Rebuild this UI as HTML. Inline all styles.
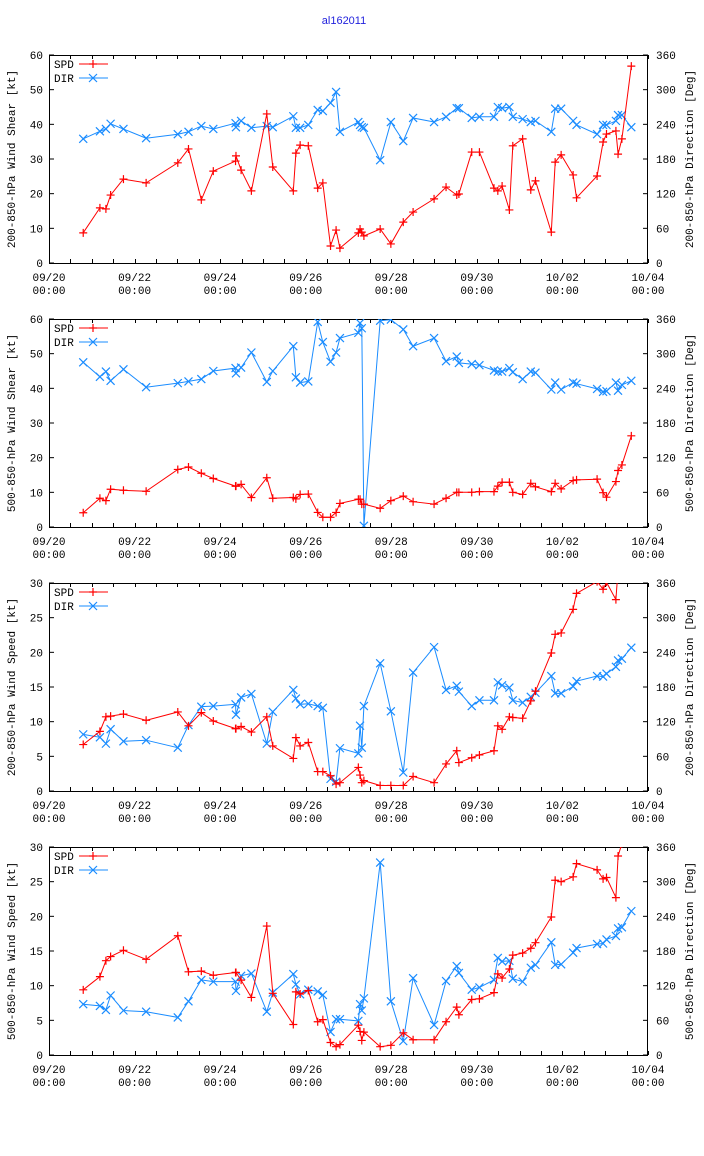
<!DOCTYPE html>
<html><head><meta charset="utf-8">
<style>
html,body{margin:0;padding:0;background:#fff;}
svg{display:block;}
text{font-family:"Liberation Mono","DejaVu Sans Mono",monospace;font-size:11px;fill:#000;}
</style></head>
<body>
<svg id="chart" width="704" height="1156" viewBox="0 0 704 1156" xmlns="http://www.w3.org/2000/svg">
<rect width="704" height="1156" fill="#fff"/>
<text x="344" y="24" text-anchor="middle" style="font-family:'Liberation Sans',sans-serif;font-size:11px;fill:#2222dd;">al162011</text>
</svg>
<script>
// time in days since 09/20 00:00
const times = [0.80,1.19,1.33,1.44,1.74,2.27,3.01,3.26,3.56,3.84,4.36,4.37,4.49,4.73,5.09,5.23,5.71,5.77,5.87,6.06,6.28,6.40,6.58,6.71,6.80,7.23,7.27,7.31,7.36,7.74,7.99,8.28,8.51,9.00,9.28,9.53,9.58,9.88,10.06,10.40,10.49,10.59,10.76,10.84,11.07,11.26,11.37,11.74,11.83,11.97,12.25,12.33,12.81,12.95,13.03,13.25,13.30,13.39,13.61];
const xTickLabels = ["09/20","09/22","09/24","09/26","09/28","09/30","10/02","10/04"];
const spd1 = [8.7,15.9,15.6,19.6,24.2,23.1,28.9,32.9,18.2,26.5,29.4,30.9,26.8,20.8,43,27.7,20.8,31.7,34,33.8,21.6,23.1,4.9,9.5,4.3,8.7,9.8,8.9,7.8,9.8,5.5,11.8,14.7,18.5,21.9,19.6,19.9,32,32,21.6,20.8,22.2,15.3,33.8,35.8,21.1,23.7,8.9,29.1,31.2,25.4,18.8,25.1,34.9,37.2,38.1,31.4,35.8,56.8];
const dir1 = [215,228,232,241,232,216,223,227,237,232,242,235,246,234,237,235,254,234,234,239,265,263,277,296,227,244,239,235,234,178,244,211,251,244,253,268,268,251,253,253,270,268,270,253,249,244,246,227,267,267,246,239,223,239,239,246,256,256,235];
const spd2 = [4.1,8.3,7.6,10.9,10.6,10.3,16.6,17.3,15.5,14,11.8,11.8,12.3,8.5,14.2,8.3,8.5,8.1,9.4,9.5,4.2,2.8,2.8,4.2,6.8,8.0,8.0,6.6,6.6,5.4,7.6,8.9,7.3,6.6,8.3,10,10,10,10.2,10.2,11.8,12.9,12.9,10,9.4,12.6,11.6,10.2,12.6,11,13.4,13.6,13.8,9.9,8.6,13.1,16.3,17.9,26.3];
const dir2 = [285,260,269,253,273,242,249,252,256,270,275,266,276,302,251,270,313,259,250,252,355,320,286,302,327,336,353,344,2,357,359,342,313,327,287,295,284,282,280,271,269,269,275,268,256,269,267,238,250,238,250,248,239,234,235,250,236,246,253];
const spd3 = [6.7,8.6,10.7,10.8,11.1,10.2,11.4,9.4,11.3,10.1,9.0,9.0,9.3,8.5,10.7,6.5,4.7,7.7,6.5,7.0,2.8,2.8,2.2,1.0,1.2,3.4,2.3,1.2,1.5,0.8,0.8,0.8,2.1,1.2,3.9,5.8,4.1,4.8,5.2,5.8,9.4,8.9,10.7,10.6,10.5,13,14.4,19.9,22.6,22.8,26.2,28.5,30.2,29.1,30.1,27.6,32,33,34];
const dir3 = [98,93,82,107,86,88,75,114,146,147,150,132,162,168,82,137,175,160,150,151,147,144,21,16,74,65,113,75,147,221,138,32,205,249,175,182,172,147,157,157,188,183,179,157,153,163,170,199,169,169,181,190,199,198,203,215,226,229,248];
const spd4 = [9.4,11.3,13.6,14.2,15.1,13.8,17.2,12,12.1,11.5,11.9,11.9,10.8,8.3,18.6,8.9,4.4,9.1,8.8,9.3,4.8,5.1,1.8,1.2,1.5,4.3,3.4,2.1,3.3,1.2,1.4,3.2,2.2,2.2,4.8,6.9,5.8,8.0,8.1,9.0,11.7,11.1,12.4,14.4,14.7,15.4,16.2,19.9,25.2,25.0,25.7,27.6,26.7,25.4,25.6,22.7,28.7,30.5,33];
const dir4 = [88,85,78,103,77,75,65,93,130,127,127,111,137,141,75,108,140,122,105,113,110,104,40,62,62,59,88,77,98,333,93,24,133,52,128,154,142,113,117,130,168,162,163,132,127,151,156,195,156,157,177,185,192,193,200,206,219,221,249];
const spdMax = [60,60,30,30];
const spdTickStep = [10,10,5,5];
const dirTicks = [0,60,120,180,240,300,360];
const leftTitles = ["200-850-hPa Wind Shear [kt]","500-850-hPa Wind Shear [kt]","200-850-hPa Wind Speed [kt]","500-850-hPa Wind Speed [kt]"];
const rightTitles = ["200-850-hPa Direction [Deg]","500-850-hPa Direction [Deg]","200-850-hPa Direction [Deg]","500-850-hPa Direction [Deg]"];
const spdSeries = [spd1,spd2,spd3,spd4];
const dirSeries = [dir1,dir2,dir3,dir4];

const NS = "http://www.w3.org/2000/svg";
const svg = document.getElementById('chart');
const L = 49, R = 648, H = 208, tops = [55,319,583,847], DAYS = 14;
const RED = "#ff0000", BLUE = "#1a8cff";
function mk(tag, attrs, parent){ const e=document.createElementNS(NS,tag); for(const k in attrs) e.setAttribute(k,attrs[k]); (parent||svg).appendChild(e); return e; }
function xScale(d){ return L + d/DAYS*(R-L); }

tops.forEach((T,p)=>{
  const B = T+H;
  const g = mk('g',{});
  
  
  const ySpd = v => B - v/spdMax[p]*H;
  const yDir = v => B - v/360*H;
  const cp = mk('clipPath',{id:'clip'+p},g);
  mk('rect',{x:L,y:T,width:R-L,height:H},cp);
  // y ticks left
  for(let v=0; v<=spdMax[p]; v+=spdTickStep[p]){
    const y=ySpd(v);
    mk('line',{x1:L,y1:y,x2:L+5,y2:y,stroke:'#000','stroke-width':1},g);
    const t=mk('text',{x:L-6,y:y+4,'text-anchor':'end'},g);
    t.textContent=v;
    
    
  }
  dirTicks.forEach(v=>{
    const y=yDir(v);
    mk('line',{x1:R-5,y1:y,x2:R,y2:y,stroke:'#000','stroke-width':1},g);
    const t=mk('text',{x:R+8,y:y+4},g);
    t.textContent=v;
    
    
  });
  // x ticks every 12h
  for(let i=0;i<=DAYS*2;i++){
    const x=Math.round(xScale(i/2))+0.5;
    mk('line',{x1:x,y1:B,x2:x,y2:B-4,stroke:'#000','stroke-width':1},g);
    mk('line',{x1:x,y1:T,x2:x,y2:T+4,stroke:'#000','stroke-width':1},g);
  }
  xTickLabels.forEach((lab,i)=>{
    const x=xScale(i*2);
    const t=mk('text',{x:x,y:B+18,'text-anchor':'middle'},g);
    t.textContent=lab;
    
    
    const t2=mk('text',{x:x,y:B+31,'text-anchor':'middle'},g);
    t2.textContent='00:00';
    
    
  });
  // frame
  const fr=mk('rect',{x:L+0.5,y:T+0.5,width:R-L-1,height:H,fill:'none',stroke:'#000','stroke-width':1},g);
  
  
  // axis titles
  const cyl=T+H/2;
  const lt=mk('text',{x:15,y:cyl,'text-anchor':'middle',transform:`rotate(-90 15 ${cyl})`},g);
  lt.textContent=leftTitles[p];
  
  
  const rt=mk('text',{x:693,y:cyl,'text-anchor':'middle',transform:`rotate(-90 693 ${cyl})`},g);
  rt.textContent=rightTitles[p];
  
  
  // series
  const cg=mk('g',{'clip-path':`url(#clip${p})`},g);
  function series(vals, yf, color, marker, name){
    const pts=vals.map((v,i)=>[xScale(times[i]),yf(v)]);
    const pl=mk('polyline',{points:pts.map(q=>q[0].toFixed(1)+','+q[1].toFixed(1)).join(' '),fill:'none',stroke:color,'stroke-width':1},cg);
    
    
    pts.forEach(q=>{
      const d = marker==='+' ? `M${q[0]-4},${q[1]}h8M${q[0]},${q[1]-4}v8` : `M${q[0]-4},${q[1]-4}l8,8M${q[0]-4},${q[1]+4}l8,-8`;
      const m=mk('path',{d:d,stroke:color,'stroke-width':1.2,fill:'none'},cg);
      
      
    });
  }
  series(dirSeries[p], yDir, BLUE, 'x', 'dir');
  series(spdSeries[p], ySpd, RED, '+', 'spd');
  // legend
  const lg=mk('g',{},g);
  
  
  const s1=mk('text',{x:54,y:T+13},lg); s1.textContent='SPD';
  
  
  mk('line',{x1:79,y1:T+9,x2:108,y2:T+9,stroke:RED,'stroke-width':1},lg);
  mk('path',{d:`M${89},${T+9}h8M${93},${T+5}v8`,stroke:RED,'stroke-width':1.2},lg);
  const s2=mk('text',{x:54,y:T+27},lg); s2.textContent='DIR';
  
  
  mk('line',{x1:79,y1:T+23,x2:108,y2:T+23,stroke:BLUE,'stroke-width':1},lg);
  mk('path',{d:`M89,${T+19}l8,8M89,${T+27}l8,-8`,stroke:BLUE,'stroke-width':1.2},lg);
});
</script>
</body></html>
